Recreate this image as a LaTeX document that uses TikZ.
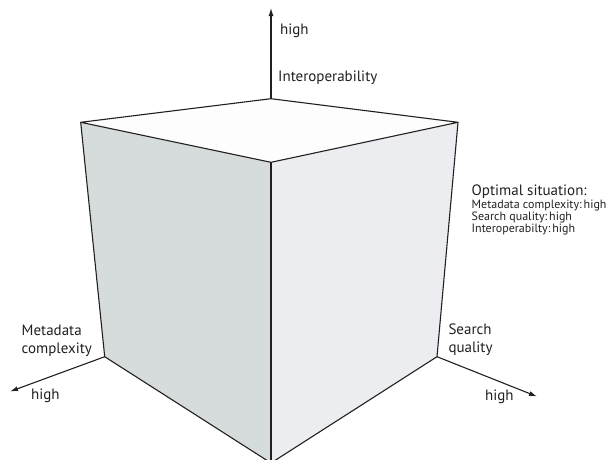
\documentclass[tikz,border=0pt]{standalone}
\usepackage{fontspec}
\setmainfont{PT Sans}
\usetikzlibrary{arrows.meta}
\definecolor{edge}{HTML}{231F20}
\definecolor{leftface}{HTML}{D6DCDC}
\definecolor{rightface}{HTML}{ECEDF1}
\definecolor{topface}{HTML}{FDFDFD}
\tikzset{
  cubeedge/.style={draw=edge, line width=1.1pt, line join=round},
  axis/.style={draw=edge, line width=1.1pt, -{Latex[length=8pt,width=5pt]}},
  lbl/.style={anchor=west, inner sep=0pt, font=\fontsize{15}{17}\selectfont, text=edge},
  small/.style={anchor=west, inner sep=0pt, font=\fontsize{12}{13}\selectfont, text=edge},
}
\begin{document}
\begin{tikzpicture}[x=1pt, y=-1pt]
\useasboundingbox (0,0) rectangle (616,459);
\clip (0,0) rectangle (616,459);
% cube vertices
\coordinate (tb) at (271,98.7);
\coordinate (tl) at (80.7,122.3);
\coordinate (tr) at (458,122.3);
\coordinate (tf) at (271,162.3);
\coordinate (bl) at (104.7,356.7);
\coordinate (br) at (437,356.7);
\coordinate (bf) at (271,463);
% axis tips
\coordinate (up) at (271,8);
\coordinate (lt) at (10,391.5);
\coordinate (rt) at (537,396.5);
% faces
\fill[leftface] (tl) -- (tf) -- (bf) -- (bl) -- cycle;
\fill[rightface] (tf) -- (tr) -- (br) -- (bf) -- cycle;
\fill[topface] (tb) -- (tr) -- (tf) -- (tl) -- cycle;
\draw[cubeedge] (tb) -- (tr) -- (tf) -- (tl) -- cycle;
\draw[cubeedge] (tl) -- (bl) -- (bf) -- (br) -- (tr);
\draw[cubeedge] (tf) -- (bf);
% axes
\draw[axis] (tb) -- (up);
\draw[axis] (bl) -- (lt);
\draw[axis] (br) -- (rt);
% labels
\node[lbl] (uhigh) at (280,31) {high};
\node[lbl] (interop) at (278,78) {Interoperability};
\node[lbl] (meta1) at (21.5,330.5) {Metadata};
\node[lbl] (meta2) at (21.5,349.5) {complexity};
\node[lbl] (lhigh) at (31,396) {high};
\node[lbl] (search1) at (448.3,329.3) {Search};
\node[lbl] (search2) at (448.3,348.3) {quality};
\node[lbl] (rhigh) at (485,397) {high};
\node[lbl] (opt) at (471.5,191.5) {Optimal situation:};
\node[small] (opt1) at (471.5,205.3) {Metadata complexity:\,high};
\node[small] (opt2) at (471.5,217.5) {Search quality:\,high};
\node[small] (opt3) at (471.5,229.7) {Interoperabilty:\,high};
\end{tikzpicture}
\end{document}
